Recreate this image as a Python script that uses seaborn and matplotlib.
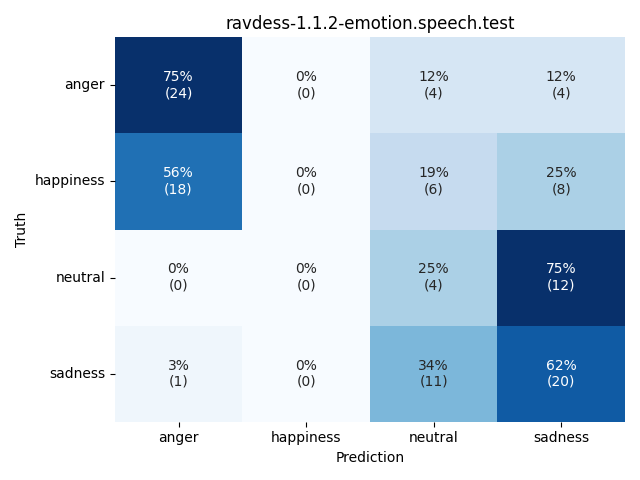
import numpy as np
import matplotlib
matplotlib.use("Agg")
import matplotlib.pyplot as plt
import seaborn as sns

# classes e contagens da matriz de confusão
labels = ["anger", "happiness", "neutral", "sadness"]
anger_row = [24, 0, 4, 4]
happiness_row = [18, 0, 6, 8]
neutral_row = [0, 0, 4, 12]
sadness_row = [1, 0, 11, 20]

counts = np.array([anger_row, happiness_row, neutral_row, sadness_row])
perc = counts / counts.sum(axis=1, keepdims=True)

annot = np.empty(counts.shape, dtype=object)
for i in range(counts.shape[0]):
    for j in range(counts.shape[1]):
        annot[i, j] = f"{perc[i, j]:.0%}\n({counts[i, j]})"

fig, ax = plt.subplots(figsize=(6.4, 4.8), dpi=100)
sns.heatmap(perc, annot=annot, fmt="", cmap="Blues", cbar=False,
            xticklabels=labels, yticklabels=labels, ax=ax)
ax.set_title("ravdess-1.1.2-emotion.speech.test")
ax.set_xlabel("Prediction")
ax.set_ylabel("Truth")
plt.yticks(rotation=0)
plt.tight_layout()
plt.savefig("out.png")
